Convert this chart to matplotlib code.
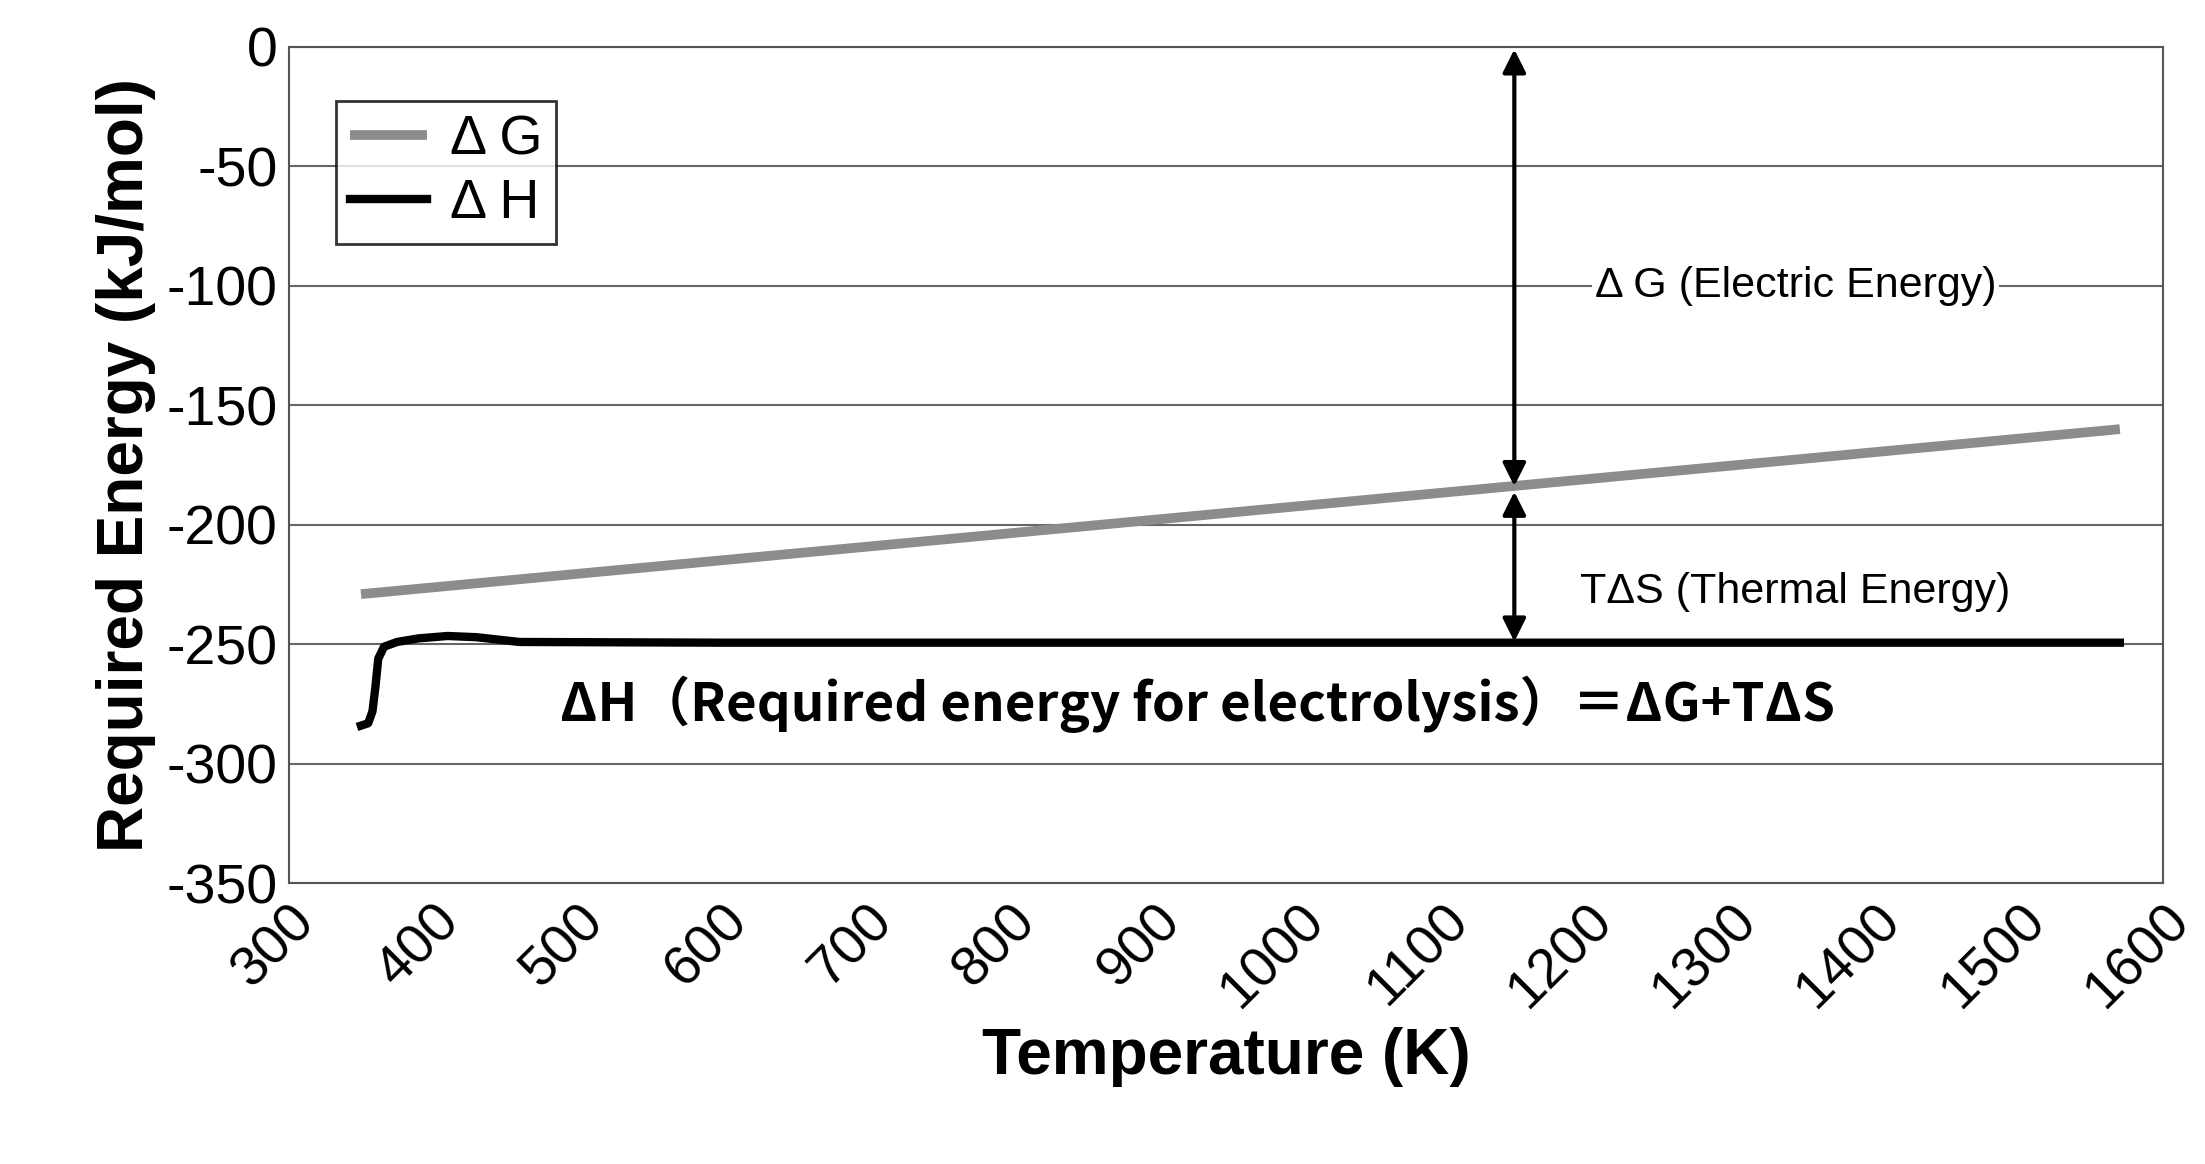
import matplotlib
matplotlib.use("Agg")
import matplotlib.pyplot as plt

plt.rcParams['font.family'] = 'Liberation Sans'
plt.rcParams['axes.unicode_minus'] = False

temp_g = [350, 1570]
dG = [-229, -160]
temp_h = [350, 355, 358, 360, 362, 366, 375, 390, 410, 430, 460, 600, 1000, 1570]
dH = [-284, -283, -278, -268, -256, -251, -249, -247.5, -246.5, -247, -249, -249.3, -249.3, -249.3]
xticks = list(range(300, 1601, 100))
yticks = list(range(-350, 1, 50))

fig = plt.figure(figsize=(22.05, 11.64), dpi=100)
ax = fig.add_axes([0.131, 0.241, 0.850, 0.719])
ax.plot(temp_g, dG, color='#8c8c8c', lw=7, label='Δ G', solid_capstyle='butt')
ax.plot(temp_h, dH, color='black', lw=6, label='Δ H')
ax.set_xlim(300, 1600); ax.set_ylim(-350, 0)
ax.set_xticks(xticks); ax.set_yticks(yticks)
ax.tick_params(labelsize=40, length=0, pad=8)
plt.setp(ax.get_xticklabels(), rotation=45, ha='right', rotation_mode='anchor')
ax.grid(axis='y', color='#666666', lw=1.5)
for s in ax.spines.values():
    s.set_color('#555555'); s.set_linewidth(1.5)
ax.set_xlabel('Temperature (K)', fontsize=46, fontweight='bold', labelpad=6)
ax.set_ylabel('Required Energy (kJ/mol)', fontsize=46, fontweight='bold', labelpad=8)
leg = ax.legend(loc='upper left', bbox_to_anchor=(0.025, 0.935), fontsize=40, frameon=True,
                fancybox=False, handlelength=1.4, handletextpad=0.4, borderpad=0.25,
                labelspacing=0.2, borderaxespad=0)
leg.get_frame().set_edgecolor('black'); leg.get_frame().set_linewidth(2)
ap = dict(arrowstyle='<|-|>', color='black', lw=3, mutation_scale=35)
ax.annotate('', xy=(1150, 0), xytext=(1150, -185), arrowprops=ap)
ax.annotate('', xy=(1150, -185), xytext=(1150, -250), arrowprops=ap)
ax.text(1345, -100, 'Δ G (Electric Energy)', fontsize=31, ha='center', va='center',
        bbox=dict(facecolor='white', edgecolor='none', pad=2))
ax.text(1345, -228, 'TΔS (Thermal Energy)', fontsize=31, ha='center', va='center',
        bbox=dict(facecolor='white', edgecolor='none', pad=2))
ax.text(930, -275, 'ΔH（Required energy for electrolysis）＝ΔG+TΔS', fontsize=38,
        fontweight='bold', ha='center', va='center', family='Noto Sans CJK JP')
fig.savefig('out.png', dpi=100)
